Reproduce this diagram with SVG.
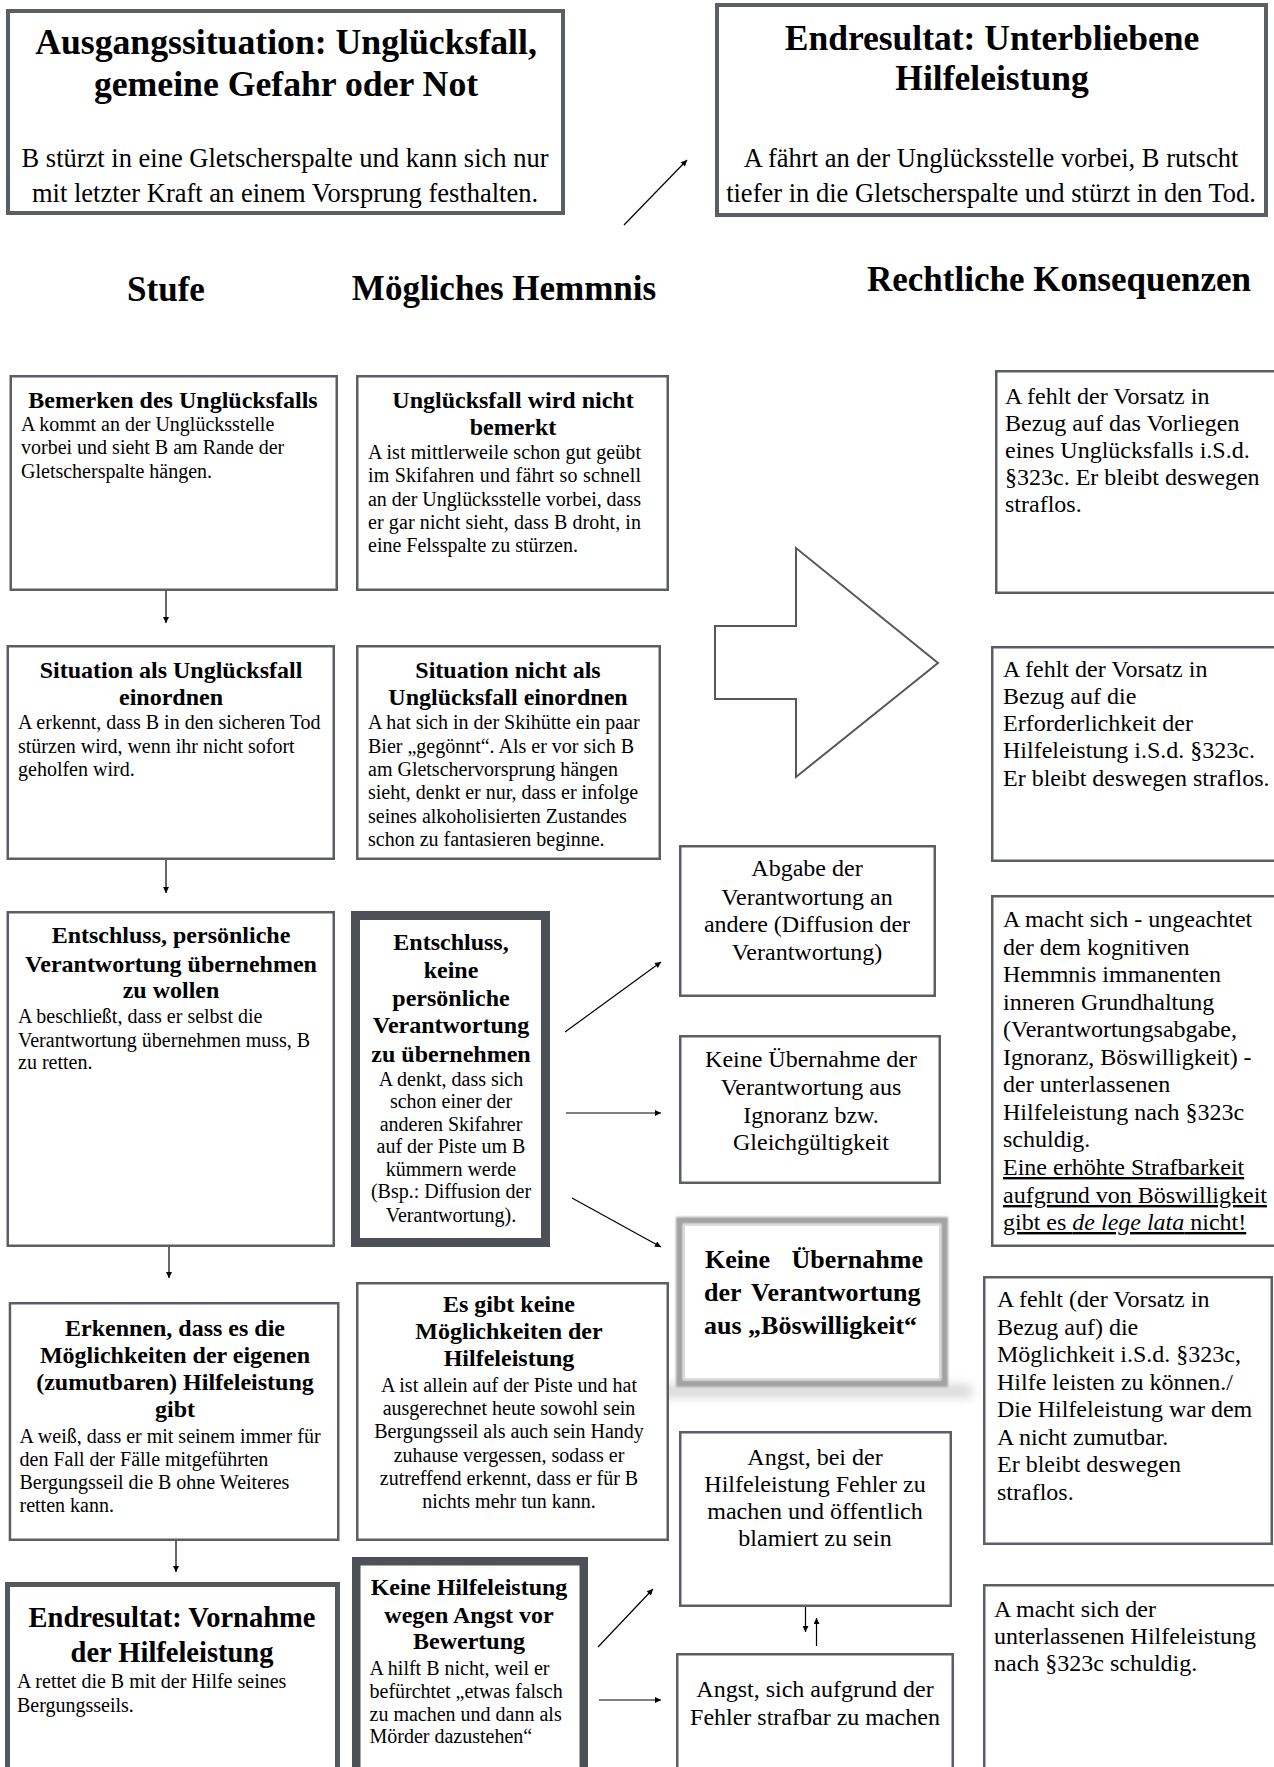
<svg xmlns="http://www.w3.org/2000/svg" width="1274" height="1767" viewBox="0 0 1274 1767">
<defs>
<style>
.box{fill:#fff;stroke:#5b5f64;stroke-width:2.5}
.t{font-family:"Liberation Serif","Times New Roman",serif;fill:#000}
.b{font-weight:bold}
.c{text-anchor:middle}
.s20{font-size:20px}
.s24{font-size:24px}
.s26{font-size:26.5px}
.conn{stroke:#000;stroke-width:1.2;fill:none;marker-end:url(#ah)}
.u{text-decoration:underline}
</style>
<marker id="ah" viewBox="0 0 10 10" refX="10" refY="5" markerWidth="7" markerHeight="6" markerUnits="userSpaceOnUse" orient="auto">
<path d="M0,0 L10,5 L0,10 z" fill="#000"/>
</marker>
<filter id="soft" x="-10%" y="-10%" width="120%" height="120%">
<feGaussianBlur stdDeviation="1.2"/>
</filter>
<filter id="shadow" x="-20%" y="-100%" width="140%" height="300%">
<feGaussianBlur stdDeviation="5"/>
</filter>
</defs>
<rect width="1274" height="1767" fill="#fff"/>

<g id="headers">
<text class="t b c" font-size="35" x="166" y="301">Stufe</text>
<text class="t b c" font-size="35" x="504" y="300">Mögliches Hemmnis</text>
<text class="t b c" font-size="35" x="1059" y="291">Rechtliche Konsequenzen</text>
</g>

<g id="connectors">
<line class="conn" x1="624" y1="225" x2="687" y2="160"/>
<line class="conn" x1="166" y1="591" x2="166" y2="623"/>
<line class="conn" x1="166" y1="860" x2="166" y2="893"/>
<line class="conn" x1="169" y1="1247" x2="169" y2="1278"/>
<line class="conn" x1="176" y1="1541" x2="176" y2="1572"/>
<line class="conn" x1="565" y1="1032" x2="661" y2="962"/>
<line class="conn" x1="566" y1="1113" x2="661" y2="1113"/>
<line class="conn" x1="572" y1="1198" x2="661" y2="1247"/>
<line class="conn" x1="598" y1="1647" x2="653" y2="1589"/>
<line class="conn" x1="599" y1="1700" x2="661" y2="1700"/>
<line class="conn" x1="805.5" y1="1605" x2="805.5" y2="1632"/>
<line class="conn" x1="816.5" y1="1646" x2="816.5" y2="1618"/>
<polygon points="715,626 796,626 796,548 938,663 796,777 796,699 715,699" fill="#fff" stroke="#55595e" stroke-width="2"/>
</g>

<g id="ausgangssituation">
<rect x="8" y="11" width="555" height="202" fill="#fff" stroke="#5b5f64" stroke-width="4"/>
<text class="t b c" font-size="35.7"><tspan x="286" y="54">Ausgangssituation: Unglücksfall,</tspan><tspan x="286" y="96">gemeine Gefahr oder Not</tspan></text>
<text class="t c s26"><tspan x="285" y="167">B stürzt in eine Gletscherspalte und kann sich nur</tspan><tspan x="285" y="202">mit letzter Kraft an einem Vorsprung festhalten.</tspan></text>
</g>

<g id="endresultat-unterblieben">
<rect x="717" y="5" width="549" height="210" fill="#fff" stroke="#5b5f64" stroke-width="4"/>
<text class="t b c" font-size="35.5"><tspan x="992" y="50">Endresultat: Unterbliebene</tspan><tspan x="992" y="90">Hilfeleistung</tspan></text>
<text class="t c s26"><tspan x="991" y="167">A fährt an der Unglücksstelle vorbei, B rutscht</tspan><tspan x="991" y="202">tiefer in die Gletscherspalte und stürzt in den Tod.</tspan></text>
</g>

<g id="bemerken">
<rect class="box" x="10.75" y="376.25" width="326" height="213.5"/>
<text class="t b c s24" x="173" y="408">Bemerken des Unglücksfalls</text>
<text class="t s20"><tspan x="21" y="431">A kommt an der Unglücksstelle</tspan><tspan x="21" y="454">vorbei und sieht B am Rande der</tspan><tspan x="21" y="478">Gletscherspalte hängen.</tspan></text>
</g>

<g id="nicht-bemerkt">
<rect class="box" x="357.25" y="376.25" width="310.5" height="213.5"/>
<text class="t b c s24"><tspan x="513" y="408">Unglücksfall wird nicht</tspan><tspan x="513" y="435">bemerkt</tspan></text>
<text class="t s20"><tspan x="368" y="459" textLength="273" lengthAdjust="spacing">A ist mittlerweile schon gut geübt</tspan></text>
<text class="t s20"><tspan x="368" y="482" textLength="273" lengthAdjust="spacing">im Skifahren und fährt so schnell</tspan></text>
<text class="t s20"><tspan x="368" y="505.5" textLength="273" lengthAdjust="spacing">an der Unglücksstelle vorbei, dass</tspan></text>
<text class="t s20"><tspan x="368" y="528.5" textLength="273" lengthAdjust="spacing">er gar nicht sieht, dass B droht, in</tspan></text>
<text class="t s20"><tspan x="368" y="552">eine Felsspalte zu stürzen.</tspan></text>
</g>

<g id="einordnen">
<rect class="box" x="7.75" y="646.25" width="326" height="212.5"/>
<text class="t b c s24"><tspan x="171" y="678">Situation als Unglücksfall</tspan><tspan x="171" y="705">einordnen</tspan></text>
<text class="t s20"><tspan x="18" y="729">A erkennt, dass B in den sicheren Tod</tspan><tspan x="18" y="753">stürzen wird, wenn ihr nicht sofort</tspan><tspan x="18" y="776">geholfen wird.</tspan></text>
</g>

<g id="nicht-einordnen">
<rect class="box" x="357.25" y="646.25" width="302.5" height="212.5"/>
<text class="t b c s24"><tspan x="508" y="678">Situation nicht als</tspan><tspan x="508" y="705">Unglücksfall einordnen</tspan></text>
<text class="t s20"><tspan x="368" y="729">A hat sich in der Skihütte ein paar</tspan><tspan x="368" y="753">Bier „gegönnt“. Als er vor sich B</tspan><tspan x="368" y="776">am Gletschervorsprung hängen</tspan><tspan x="368" y="799">sieht, denkt er nur, dass er infolge</tspan><tspan x="368" y="823">seines alkoholisierten Zustandes</tspan><tspan x="368" y="846">schon zu fantasieren beginne.</tspan></text>
</g>

<g id="entschluss">
<rect class="box" x="7.75" y="912.25" width="326" height="333.5"/>
<text class="t b c s24"><tspan x="171" y="943">Entschluss, persönliche</tspan><tspan x="171" y="972">Verantwortung übernehmen</tspan><tspan x="171" y="998">zu wollen</tspan></text>
<text class="t s20"><tspan x="18" y="1023">A beschließt, dass er selbst die</tspan><tspan x="18" y="1047">Verantwortung übernehmen muss, B</tspan><tspan x="18" y="1069">zu retten.</tspan></text>
</g>

<g id="entschluss-keine">
<rect x="355.5" y="915.5" width="190" height="327" fill="#fff" stroke="#4d5157" stroke-width="9"/>
<text class="t b c s24"><tspan x="451" y="950">Entschluss,</tspan><tspan x="451" y="978">keine</tspan><tspan x="451" y="1006">persönliche</tspan><tspan x="451" y="1033">Verantwortung</tspan><tspan x="451" y="1062">zu übernehmen</tspan></text>
<text class="t c s20"><tspan x="451" y="1086">A denkt, dass sich</tspan><tspan x="451" y="1108">schon einer der</tspan><tspan x="451" y="1131">anderen Skifahrer</tspan><tspan x="451" y="1153">auf der Piste um B</tspan><tspan x="451" y="1176">kümmern werde</tspan><tspan x="451" y="1198">(Bsp.: Diffusion der</tspan><tspan x="451" y="1222">Verantwortung).</tspan></text>
</g>

<g id="abgabe">
<rect class="box" x="680.25" y="846.25" width="254.5" height="149.5"/>
<text class="t c s24"><tspan x="807" y="876">Abgabe der</tspan><tspan x="807" y="905">Verantwortung an</tspan><tspan x="807" y="932">andere (Diffusion der</tspan><tspan x="807" y="960">Verantwortung)</tspan></text>
</g>

<g id="ignoranz">
<rect class="box" x="680.25" y="1036.25" width="259.5" height="146.5"/>
<text class="t c s24"><tspan x="811" y="1067">Keine Übernahme der</tspan><tspan x="811" y="1095">Verantwortung aus</tspan><tspan x="811" y="1123">Ignoranz bzw.</tspan><tspan x="811" y="1150">Gleichgültigkeit</tspan></text>
</g>

<g id="boeswilligkeit">
<rect x="652" y="1384" width="320" height="14" fill="#9a9a9a" opacity="0.35" filter="url(#shadow)"/>
<rect x="679.5" y="1220.5" width="265" height="163" fill="#fff" stroke="#a3a3a3" stroke-width="7" filter="url(#soft)"/>
<rect x="684" y="1225" width="256" height="154" fill="#fff" stroke="#d4d4d4" stroke-width="1.5"/>
<text class="t b" font-size="26"><tspan x="705" y="1268" word-spacing="15">Keine Übernahme</tspan></text>
<text class="t b" font-size="26"><tspan x="704" y="1301" word-spacing="4">der Verantwortung</tspan></text>
<text class="t b" font-size="26"><tspan x="704" y="1334">aus „Böswilligkeit“</tspan></text>
</g>

<g id="erkennen">
<rect class="box" x="9.95" y="1303.25" width="328.3" height="236.5"/>
<text class="t b c s24"><tspan x="175" y="1336">Erkennen, dass es die</tspan><tspan x="175" y="1363">Möglichkeiten der eigenen</tspan><tspan x="175" y="1390">(zumutbaren) Hilfeleistung</tspan><tspan x="175" y="1417">gibt</tspan></text>
<text class="t s20"><tspan x="19.5" y="1443">A weiß, dass er mit seinem immer für</tspan><tspan x="19.5" y="1466">den Fall der Fälle mitgeführten</tspan><tspan x="19.5" y="1489">Bergungsseil die B ohne Weiteres</tspan><tspan x="19.5" y="1512">retten kann.</tspan></text>
</g>

<g id="keine-moeglichkeit">
<rect class="box" x="357.25" y="1283.25" width="310.5" height="256.5"/>
<text class="t b c s24"><tspan x="509" y="1312">Es gibt keine</tspan><tspan x="509" y="1339">Möglichkeiten der</tspan><tspan x="509" y="1366">Hilfeleistung</tspan></text>
<text class="t c s20"><tspan x="509" y="1392">A ist allein auf der Piste und hat</tspan><tspan x="509" y="1415">ausgerechnet heute sowohl sein</tspan><tspan x="509" y="1438">Bergungsseil als auch sein Handy</tspan><tspan x="509" y="1462">zuhause vergessen, sodass er</tspan><tspan x="509" y="1485">zutreffend erkennt, dass er für B</tspan><tspan x="509" y="1508">nichts mehr tun kann.</tspan></text>
</g>

<g id="vornahme">
<rect x="7.5" y="1584.5" width="330" height="200" fill="#fff" stroke="#55595e" stroke-width="5"/>
<text class="t b c" font-size="28.5"><tspan x="172" y="1627">Endresultat: Vornahme</tspan><tspan x="172" y="1662">der Hilfeleistung</tspan></text>
<text class="t s20"><tspan x="17" y="1688">A rettet die B mit der Hilfe seines</tspan><tspan x="17" y="1712">Bergungsseils.</tspan></text>
</g>

<g id="angst-bewertung">
<rect x="356.25" y="1561.25" width="227.5" height="230" fill="#fff" stroke="#4d5157" stroke-width="8.5"/>
<text class="t b c s24"><tspan x="469" y="1595">Keine Hilfeleistung</tspan><tspan x="469" y="1623">wegen Angst vor</tspan><tspan x="469" y="1649">Bewertung</tspan></text>
<text class="t s20"><tspan x="369.5" y="1675">A hilft B nicht, weil er</tspan><tspan x="369.5" y="1698">befürchtet „etwas falsch</tspan><tspan x="369.5" y="1721">zu machen und dann als</tspan><tspan x="369.5" y="1743">Mörder dazustehen“</tspan></text>
</g>

<g id="angst-blamiert">
<rect class="box" x="680.25" y="1432.25" width="270.5" height="173.5"/>
<text class="t c s24"><tspan x="815" y="1465">Angst, bei der</tspan><tspan x="815" y="1492">Hilfeleistung Fehler zu</tspan><tspan x="815" y="1519">machen und öffentlich</tspan><tspan x="815" y="1546">blamiert zu sein</tspan></text>
</g>

<g id="angst-strafbar">
<rect class="box" x="677.25" y="1654.25" width="275.5" height="140"/>
<text class="t c s24"><tspan x="815" y="1697">Angst, sich aufgrund der</tspan><tspan x="815" y="1725">Fehler strafbar zu machen</tspan></text>
</g>

<g id="konsequenz-1">
<rect class="box" x="996.25" y="371.25" width="300" height="221.5"/>
<text class="t s24"><tspan x="1005" y="404">A fehlt der Vorsatz in</tspan><tspan x="1005" y="431">Bezug auf das Vorliegen</tspan><tspan x="1005" y="458">eines Unglücksfalls i.S.d.</tspan><tspan x="1005" y="485">§323c. Er bleibt deswegen</tspan><tspan x="1005" y="512">straflos.</tspan></text>
</g>

<g id="konsequenz-2">
<rect class="box" x="992.25" y="647.25" width="300" height="213.5"/>
<text class="t s24"><tspan x="1003" y="677">A fehlt der Vorsatz in</tspan><tspan x="1003" y="704">Bezug auf die</tspan><tspan x="1003" y="731">Erforderlichkeit der</tspan><tspan x="1003" y="758">Hilfeleistung i.S.d. §323c.</tspan><tspan x="1003" y="786">Er bleibt deswegen straflos.</tspan></text>
</g>

<g id="konsequenz-3">
<rect class="box" x="992.25" y="896.25" width="300" height="349.5"/>
<text class="t s24"><tspan x="1003" y="927">A macht sich - ungeachtet</tspan><tspan x="1003" y="955">der dem kognitiven</tspan><tspan x="1003" y="982">Hemmnis immanenten</tspan><tspan x="1003" y="1010">inneren Grundhaltung</tspan><tspan x="1003" y="1037">(Verantwortungsabgabe,</tspan><tspan x="1003" y="1065">Ignoranz, Böswilligkeit) -</tspan><tspan x="1003" y="1092">der unterlassenen</tspan><tspan x="1003" y="1120">Hilfeleistung nach §323c</tspan><tspan x="1003" y="1147">schuldig.</tspan></text>
<text class="t s24 u"><tspan x="1003" y="1175">Eine erhöhte Strafbarkeit</tspan><tspan x="1003" y="1203">aufgrund von Böswilligkeit</tspan><tspan x="1003" y="1230">gibt es <tspan font-style="italic">de lege lata</tspan> nicht!</tspan></text>
</g>

<g id="konsequenz-4">
<rect class="box" x="984.25" y="1277.25" width="287.5" height="266.5"/>
<text class="t s24"><tspan x="997" y="1307">A fehlt (der Vorsatz in</tspan><tspan x="997" y="1335">Bezug auf) die</tspan><tspan x="997" y="1362">Möglichkeit i.S.d. §323c,</tspan><tspan x="997" y="1390">Hilfe leisten zu können./</tspan><tspan x="997" y="1417">Die Hilfeleistung war dem</tspan><tspan x="997" y="1445">A nicht zumutbar.</tspan><tspan x="997" y="1472">Er bleibt deswegen</tspan><tspan x="997" y="1500">straflos.</tspan></text>
</g>

<g id="konsequenz-5">
<rect class="box" x="984.25" y="1585.25" width="300" height="210"/>
<text class="t s24"><tspan x="994" y="1617">A macht sich der</tspan><tspan x="994" y="1644">unterlassenen Hilfeleistung</tspan><tspan x="994" y="1671">nach §323c schuldig.</tspan></text>
</g>
</svg>
